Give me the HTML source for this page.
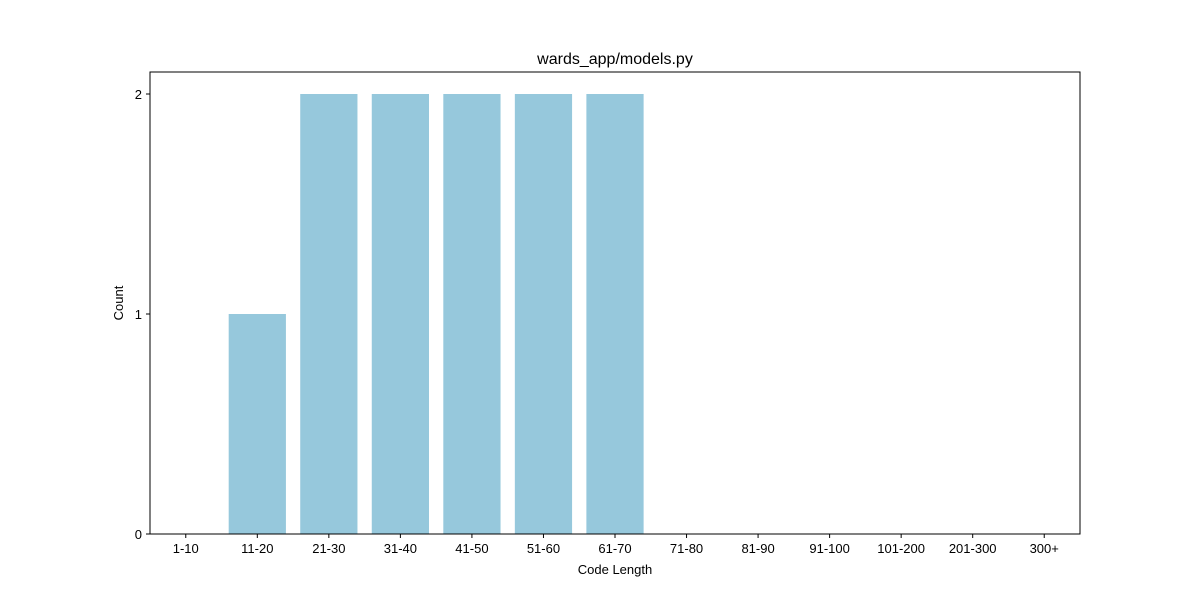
<!DOCTYPE html>
<html><head><meta charset="utf-8"><style>
body{margin:0;background:#fff;}
svg{display:block;font-family:"Liberation Sans","DejaVu Sans",sans-serif;}
</style></head><body>
<svg id="chart" width="1200" height="600" xmlns="http://www.w3.org/2000/svg">
<rect width="1200" height="600" fill="#fff"/>
<text x="615" y="64" font-size="16" text-anchor="middle">wards_app/models.py</text>
<g id="bars"></g>
<g id="xticks"></g>
<g id="yticks"></g>
<rect x="150" y="72" width="930" height="462" fill="none" stroke="#000" stroke-width="1"/>
<text x="615" y="574" font-size="13" text-anchor="middle">Code Length</text>
<text transform="translate(123,303) rotate(-90)" font-size="13" text-anchor="middle">Count</text>
</svg>
<script>
const categories=["1-10","11-20","21-30","31-40","41-50","51-60","61-70","71-80","81-90","91-100","101-200","201-300","300+"];
const counts=[0,1,2,2,2,2,2,0,0,0,0,0,0];
const yTicks=[0,1,2];
const L=150,R=1080,T=72,B=534,yMax=2.1;
const step=(R-L)/categories.length;
const xs=i=>L+step*(i+0.5);
const ys=v=>B-(v/yMax)*(B-T);
const NS="http://www.w3.org/2000/svg";
function mk(t,a){const e=document.createElementNS(NS,t);for(const k in a)e.setAttribute(k,a[k]);return e;}
const bars=document.getElementById('bars'),xt=document.getElementById('xticks'),yt=document.getElementById('yticks');
categories.forEach((c,i)=>{
  const w=step*0.8,y=ys(counts[i]);
  const r=mk('rect',{x:xs(i)-w/2,y:y,width:w,height:B-y,fill:'#96c8dc'});
  
  
  bars.appendChild(r);
  const tk=mk('line',{x1:xs(i),x2:xs(i),y1:B,y2:B+4,stroke:'#000'});
  
  
  xt.appendChild(tk);
  const t=mk('text',{x:xs(i),y:B+19,'font-size':13,'text-anchor':'middle'});
  t.textContent=c;
  
  
  xt.appendChild(t);
});
yTicks.forEach(v=>{
  const tk=mk('line',{x1:L-4,x2:L,y1:ys(v),y2:ys(v),stroke:'#000'});
  
  
  yt.appendChild(tk);
  const t=mk('text',{x:L-8,y:ys(v)+5,'font-size':13,'text-anchor':'end'});
  t.textContent=v;
  
  
  yt.appendChild(t);
});
</script>
</body></html>
